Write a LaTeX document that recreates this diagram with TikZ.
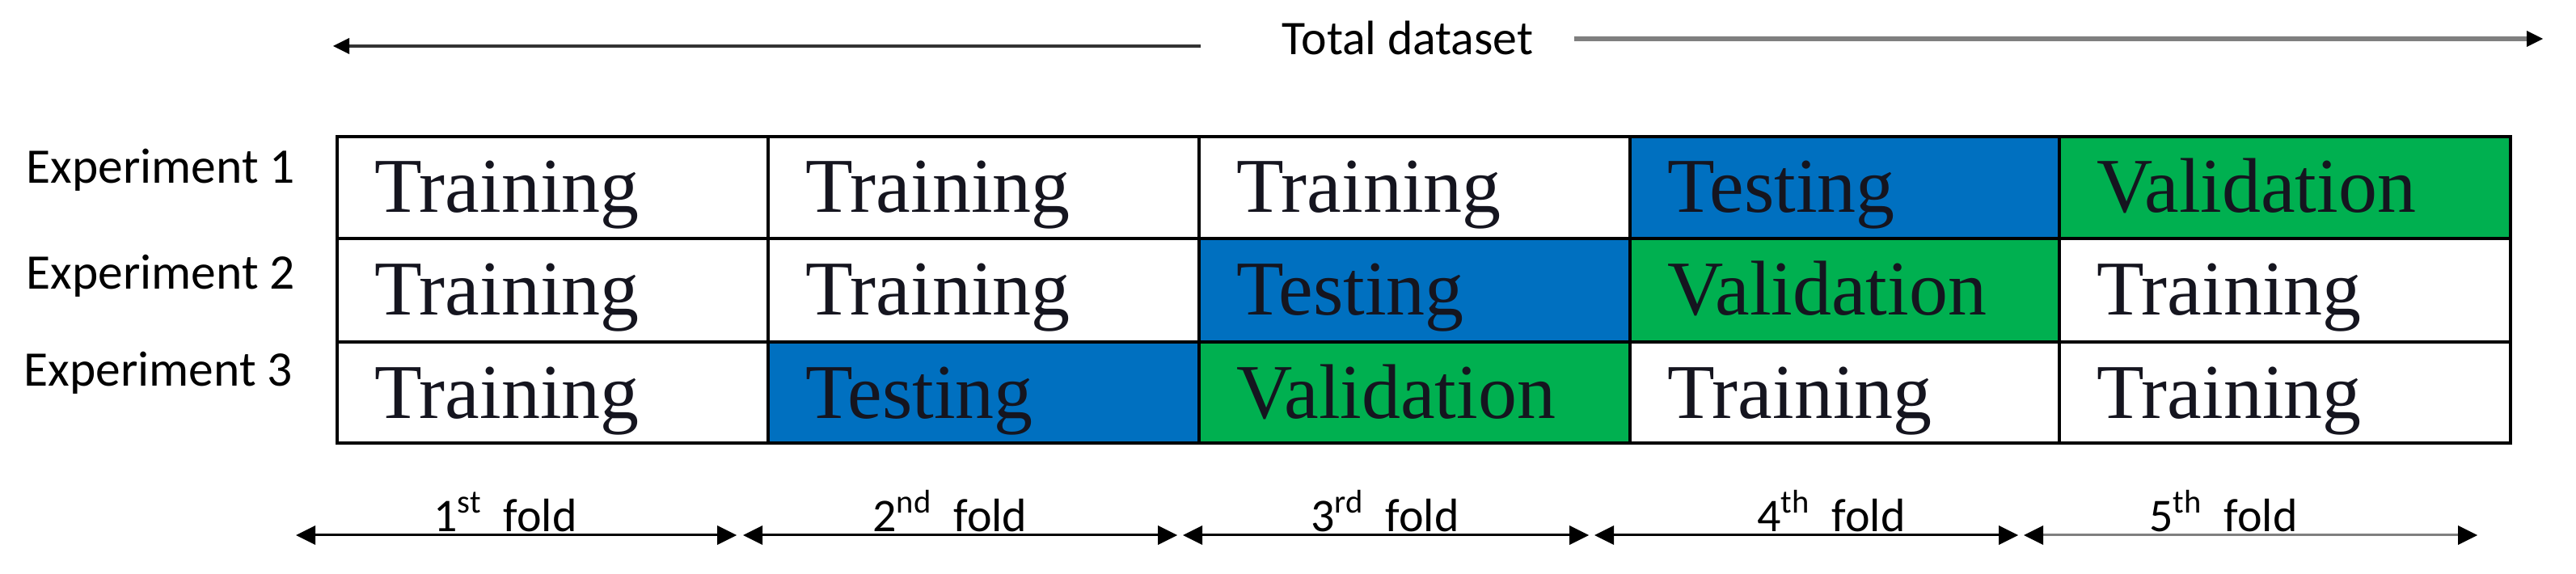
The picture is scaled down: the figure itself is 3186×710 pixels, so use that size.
\documentclass[tikz,border=0pt]{standalone}
\usepackage{fontspec}
\setmainfont{Liberation Serif}
\newfontfamily\calibri{Carlito}
\usepackage{tikz}
\definecolor{testblue}{HTML}{0070C0}
\definecolor{validgreen}{HTML}{00B050}
\definecolor{linegray}{HTML}{7F7F7F}
\definecolor{celltext}{HTML}{15151F}
\tikzset{
  celltxt/.style={anchor=base west, text=celltext, font=\fontsize{27.3}{30}\selectfont},
  explabel/.style={anchor=base west, font=\calibri\fontsize{17.5}{20}\selectfont},
  foldlabel/.style={anchor=base, font=\calibri\fontsize{16.5}{19}\selectfont},
  gridline/.style={line width=0.35mm, black},
  dimline/.style={line width=0.3mm, black, shorten <=2mm, shorten >=2mm},
}

\begin{document}
\begin{tikzpicture}[x=0.1mm, y=0.1mm]
	\tikzstyle{every node}+=[inner sep=0pt]
	\useasboundingbox (0,0) rectangle (3186,-710);
	% total dataset
	\node (total) [anchor=base, font=\calibri\fontsize{17}{20}\selectfont] at (1741,-68) {Total dataset};
	\coordinate (tl) at (412,-57);
	\coordinate (tlm) at (1485,-57);
	\coordinate (trm) at (1947,-48);
	\coordinate (tr) at (3145,-48);
	\draw [line width=0.33mm, black!80, shorten >=1.8mm] (tlm) -- (tl);
	\fill [black] (tl) -- ++(20,10) -- ++(0,-20) -- cycle;
	\draw [line width=0.6mm, linegray, shorten >=1.8mm] (trm) -- (tr);
	\fill [black] (tr) -- ++(-20,10) -- ++(0,-20) -- cycle;
	% experiments
	\node (exp1) [explabel] at (32,-227) {Experiment 1};
	\node (exp2) [explabel] at (32,-358) {Experiment 2};
	\node (exp3) [explabel] at (29,-478) {Experiment 3};
	% coloured cells
	\fill [testblue] (2016,-169) rectangle (2547,-295);
	\fill [validgreen] (2547,-169) rectangle (3105,-295);
	\fill [testblue] (1483,-295) rectangle (2016,-423);
	\fill [validgreen] (2016,-295) rectangle (2547,-423);
	\fill [testblue] (950,-423) rectangle (1483,-548);
	\fill [validgreen] (1483,-423) rectangle (2016,-548);
	% grid
	\draw [gridline] (417,-169) rectangle (3105,-548);
	\draw [gridline] (417,-295) -- (3105,-295);
	\draw [gridline] (417,-423) -- (3105,-423);
	\draw [gridline] (950,-169) -- (950,-548);
	\draw [gridline] (1483,-169) -- (1483,-548);
	\draw [gridline] (2016,-169) -- (2016,-548);
	\draw [gridline] (2547,-169) -- (2547,-548);
	% row 1
	\node (r1c1) [celltxt] at (463,-263) {Training};
	\node (r1c2) [celltxt] at (996,-263) {Training};
	\node (r1c3) [celltxt] at (1529,-263) {Training};
	\node (r1c4) [celltxt] at (2062,-263) {Testing};
	\node (r1c5) [celltxt] at (2593,-263) {Validation};
	% row 2
	\node (r2c1) [celltxt] at (463,-390) {Training};
	\node (r2c2) [celltxt] at (996,-390) {Training};
	\node (r2c3) [celltxt] at (1529,-390) {Testing};
	\node (r2c4) [celltxt] at (2062,-390) {Validation};
	\node (r2c5) [celltxt] at (2593,-390) {Training};
	% row 3
	\node (r3c1) [celltxt] at (463,-518) {Training};
	\node (r3c2) [celltxt] at (996,-518) {Testing};
	\node (r3c3) [celltxt] at (1529,-518) {Validation};
	\node (r3c4) [celltxt] at (2062,-518) {Training};
	\node (r3c5) [celltxt] at (2593,-518) {Training};
	% folds
	\coordinate (f0) at (366,-662);
	\coordinate (f1l) at (911,-662);
	\coordinate (f1r) at (919,-662);
	\coordinate (f2l) at (1456,-662);
	\coordinate (f2r) at (1463,-662);
	\coordinate (f3l) at (1965,-662);
	\coordinate (f3r) at (1972,-662);
	\coordinate (f4l) at (2496,-662);
	\coordinate (f4r) at (2503,-662);
	\coordinate (f5) at (3064,-662);
	\draw [dimline] (f0) -- (f1l);
	\draw [dimline] (f1r) -- (f2l);
	\draw [dimline] (f2r) -- (f3l);
	\draw [dimline] (f3r) -- (f4l);
	\draw [dimline, linegray] (f4r) -- (f5);
	\fill [black] (f0) -- ++(24,12) -- ++(0,-24) -- cycle;
	\fill [black] (f1l) -- ++(-24,12) -- ++(0,-24) -- cycle;
	\fill [black] (f1r) -- ++(24,12) -- ++(0,-24) -- cycle;
	\fill [black] (f2l) -- ++(-24,12) -- ++(0,-24) -- cycle;
	\fill [black] (f2r) -- ++(24,12) -- ++(0,-24) -- cycle;
	\fill [black] (f3l) -- ++(-24,12) -- ++(0,-24) -- cycle;
	\fill [black] (f3r) -- ++(24,12) -- ++(0,-24) -- cycle;
	\fill [black] (f4l) -- ++(-24,12) -- ++(0,-24) -- cycle;
	\fill [black] (f4r) -- ++(24,12) -- ++(0,-24) -- cycle;
	\fill [black] (f5) -- ++(-24,12) -- ++(0,-24) -- cycle;
	\node (fold1) [foldlabel] at (625,-657) {1\textsuperscript{st}~ fold};
	\node (fold2) [foldlabel] at (1175,-657) {2\textsuperscript{nd}~ fold};
	\node (fold3) [foldlabel] at (1713,-657) {3\textsuperscript{rd}~ fold};
	\node (fold4) [foldlabel] at (2265,-657) {4\textsuperscript{th}~ fold};
	\node (fold5) [foldlabel] at (2750,-657) {5\textsuperscript{th}~ fold};
\end{tikzpicture}
\end{document}
